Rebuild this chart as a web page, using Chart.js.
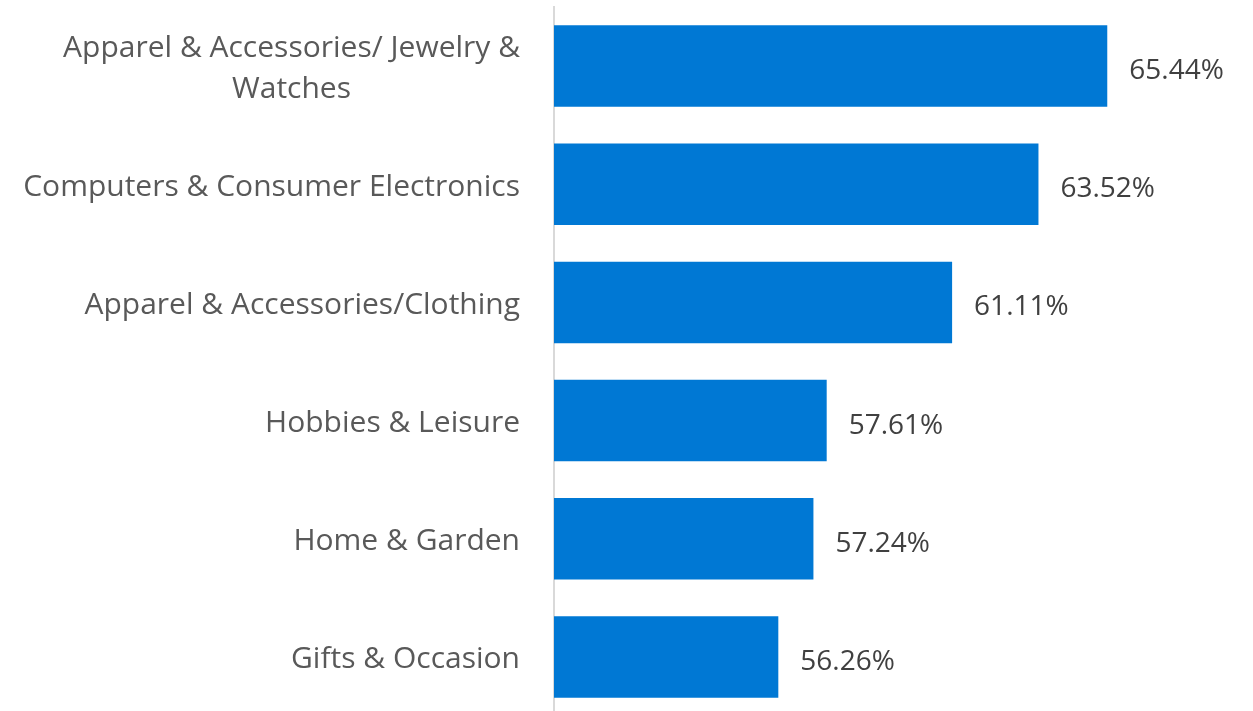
<!DOCTYPE html>
<html>
<head>
<meta charset="utf-8">
<script src="https://cdn.jsdelivr.net/npm/chart.js@4.4.1/dist/chart.umd.min.js"></script>
<style>
  html, body { margin: 0; padding: 0; background: #fff; overflow: hidden; }
  #wrap { position: relative; width: 1253px; height: 717px; }
</style>
</head>
<body>
<div id="wrap"><canvas id="chart"></canvas></div>
<script>
// categories (first one wraps onto two lines)
const categories = [
    ['Apparel & Accessories/ Jewelry &', 'Watches'],
    ['Computers & Consumer Electronics'],
    ['Apparel & Accessories/Clothing'],
    ['Hobbies & Leisure'],
    ['Home & Garden'],
    ['Gifts & Occasion']
];
const shares = [65.44, 63.52, 61.11, 57.61, 57.24, 56.26];
const axisMin = 50;
const axisMax = 68;

const FONT = '"Open Sans", "Noto Sans", sans-serif';

// category names on the left, value labels after each bar
const labelPlugin = {
    id: 'barLabels',
    afterDatasetsDraw(chart) {
        const ctx = chart.ctx;
        const yScale = chart.scales.y;
        const meta = chart.getDatasetMeta(0);
        ctx.save();

        ctx.font = '30px ' + FONT;
        ctx.fillStyle = '#595959';
        ctx.textBaseline = 'middle';
        ctx.textAlign = 'left';
        categories.forEach(function(lines, i) {
            const cy = yScale.getPixelForValue(i) + 3;
            const lineH = 41;
            const widths = lines.map(l => ctx.measureText(l).width);
            const maxW = Math.max.apply(null, widths);
            const right = 520;
            lines.forEach(function(line, j) {
                const y = cy + (j - (lines.length - 1) / 2) * lineH;
                // multi-line names are centred on their widest line
                const x = right - maxW + (maxW - widths[j]) / 2;
                ctx.fillText(line, x, y);
            });
        });

        ctx.font = '28px ' + FONT;
        ctx.fillStyle = '#404040';
        meta.data.forEach(function(bar, i) {
            ctx.fillText(shares[i].toFixed(2) + '%', bar.x + 22, bar.y + 5);
        });
        ctx.restore();
    }
};

const ctx = document.getElementById('chart').getContext('2d');
new Chart(ctx, {
    type: 'bar',
    data: {
        labels: categories,
        datasets: [{
            data: shares,
            backgroundColor: '#0078d4',
            borderWidth: 0,
            barPercentage: 0.69,
            categoryPercentage: 1
        }]
    },
    options: {
        indexAxis: 'y',
        responsive: true,
        maintainAspectRatio: false,
        animation: false,
        layout: {
            padding: { left: 554, right: 54, top: 7, bottom: 1 }
        },
        plugins: {
            legend: { display: false },
            tooltip: { enabled: false }
        },
        scales: {
            x: {
                display: false,
                min: axisMin,
                max: axisMax
            },
            y: {
                afterFit(scale) { scale.width = 0; },
                ticks: { display: false },
                grid: { display: false },
                border: { display: true, color: '#d9d9d9', width: 2 }
            }
        }
    },
    plugins: [labelPlugin]
});
</script>
</body>
</html>
